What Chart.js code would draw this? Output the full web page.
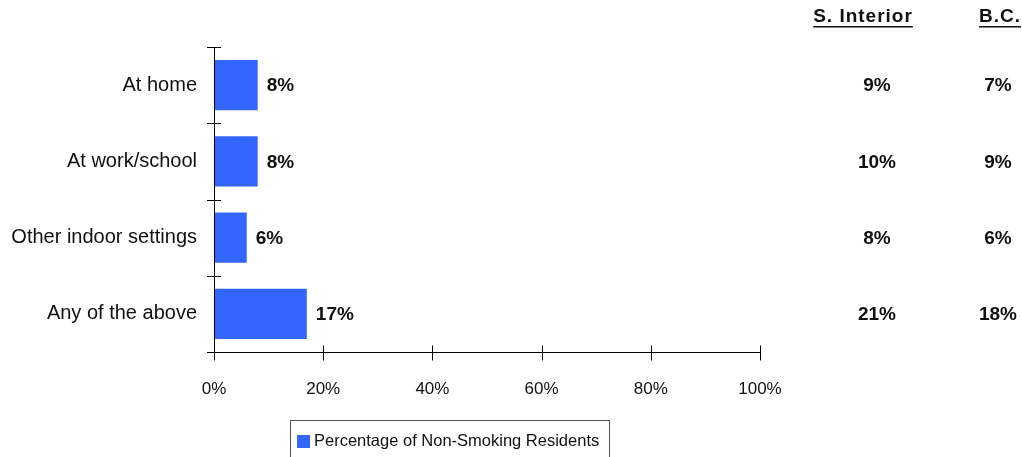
<!DOCTYPE html>
<html>
<head>
<meta charset="utf-8">
<script src="https://cdn.jsdelivr.net/npm/chart.js@4"></script>
<style>
  html, body { margin:0; padding:0; background:#fff; }
  #wrap { width:1022px; height:457px; position:relative; }
</style>
</head>
<body>
<div id="wrap"><canvas id="chart" width="1022" height="457"></canvas></div>
<script>
// data
const categories = ['At home', 'At work/school', 'Other indoor settings', 'Any of the above'];
const nonSmoking = [8, 8, 6, 17];
const interiorVals = ['9%', '10%', '8%', '21%'];
const bcVals = ['7%', '9%', '6%', '18%'];
const xTicks = [0, 20, 40, 60, 80, 100];
const legendLabel = 'Percentage of Non-Smoking Residents';

const FONT = '"Liberation Sans", sans-serif';
const BLUE = '#3366FF';

// axes, value labels, side columns and legend box
const extras = {
  id: 'extras',
  afterDraw(chart){
    const ctx = chart.ctx;
    const xs = chart.scales.x, ys = chart.scales.y;
    const left = xs.getPixelForValue(0);
    const top = chart.chartArea.top, bottom = chart.chartArea.bottom;
    ctx.save();
    ctx.strokeStyle = '#000';
    ctx.lineWidth = 1;
    ctx.beginPath();
    // y axis + ticks between categories
    ctx.moveTo(left + 0.5, top); ctx.lineTo(left + 0.5, bottom);
    const step = (bottom - top) / categories.length;
    for(let i=0;i<categories.length;i++){
      const y = Math.round(top + i*step) + 0.5;
      ctx.moveTo(left - 7, y); ctx.lineTo(left + 7, y);
    }
    // x axis + ticks
    const by = Math.round(bottom) + 0.5;
    ctx.moveTo(left - 7, by); ctx.lineTo(xs.getPixelForValue(100) + 1, by);
    xTicks.forEach(v => {
      const x = Math.round(xs.getPixelForValue(v)) + 0.5;
      ctx.moveTo(x, by - 7); ctx.lineTo(x, by + 8);
    });
    ctx.stroke();

    // bar value labels
    ctx.fillStyle = '#111';
    ctx.font = 'bold 19px ' + FONT;
    ctx.textBaseline = 'middle';
    ctx.textAlign = 'left';
    nonSmoking.forEach((v,i) => {
      ctx.fillText(v + '%', xs.getPixelForValue(v) + 9, ys.getPixelForValue(i) + 1);
    });

    // comparison columns
    ctx.textAlign = 'center';
    interiorVals.forEach((t,i) => ctx.fillText(t, 877, ys.getPixelForValue(i) + 1));
    bcVals.forEach((t,i) => ctx.fillText(t, 998, ys.getPixelForValue(i) + 1));
    const heads = [['S. Interior', 863], ['B.C.', 1000]];
    ctx.font = 'bold 19px ' + FONT;
    ctx.letterSpacing = '1px';
    heads.forEach(([t, cx]) => {
      ctx.fillText(t, cx, 17);
      const w = ctx.measureText(t).width;
      ctx.fillRect(cx - w/2, 26, w, 1.5);
    });
    ctx.letterSpacing = '0px';

    // legend box
    ctx.strokeStyle = '#555';
    ctx.strokeRect(290.5, 420.5, 319, 40);
    ctx.fillStyle = BLUE;
    ctx.fillRect(297, 435, 13, 13);
    ctx.fillStyle = '#111';
    ctx.font = '16.5px ' + FONT;
    ctx.textAlign = 'left';
    ctx.fillText(legendLabel, 314, 441);
    ctx.restore();
  }
};

new Chart(document.getElementById('chart'), {
  type: 'bar',
  data: {
    labels: categories,
    datasets: [{
      label: legendLabel,
      data: nonSmoking,
      backgroundColor: BLUE,
      borderWidth: 0,
      categoryPercentage: 1,
      barPercentage: 0.66
    }]
  },
  options: {
    indexAxis: 'y',
    responsive: false,
    animation: false,
    layout: { padding: { top: 47, right: 262, left: 0, bottom: 0 } },
    plugins: { legend: { display: false }, tooltip: { enabled: false } },
    scales: {
      x: {
        min: 0, max: 100,
        afterFit(s){ s.height = 105; },
        afterBuildTicks(s){ s.ticks = xTicks.map(v => ({ value: v })); },
        grid: { display: false },
        border: { display: false },
        ticks: { color: '#111', padding: 19, font: { family: FONT, size: 17 }, callback: v => v + '%' }
      },
      y: {
        afterFit(s){ s.width = 214; },
        grid: { display: false },
        border: { display: false },
        ticks: { color: '#111', padding: 9, font: { family: FONT, size: 20 } }
      }
    }
  },
  plugins: [extras]
});
</script>
</body>
</html>
